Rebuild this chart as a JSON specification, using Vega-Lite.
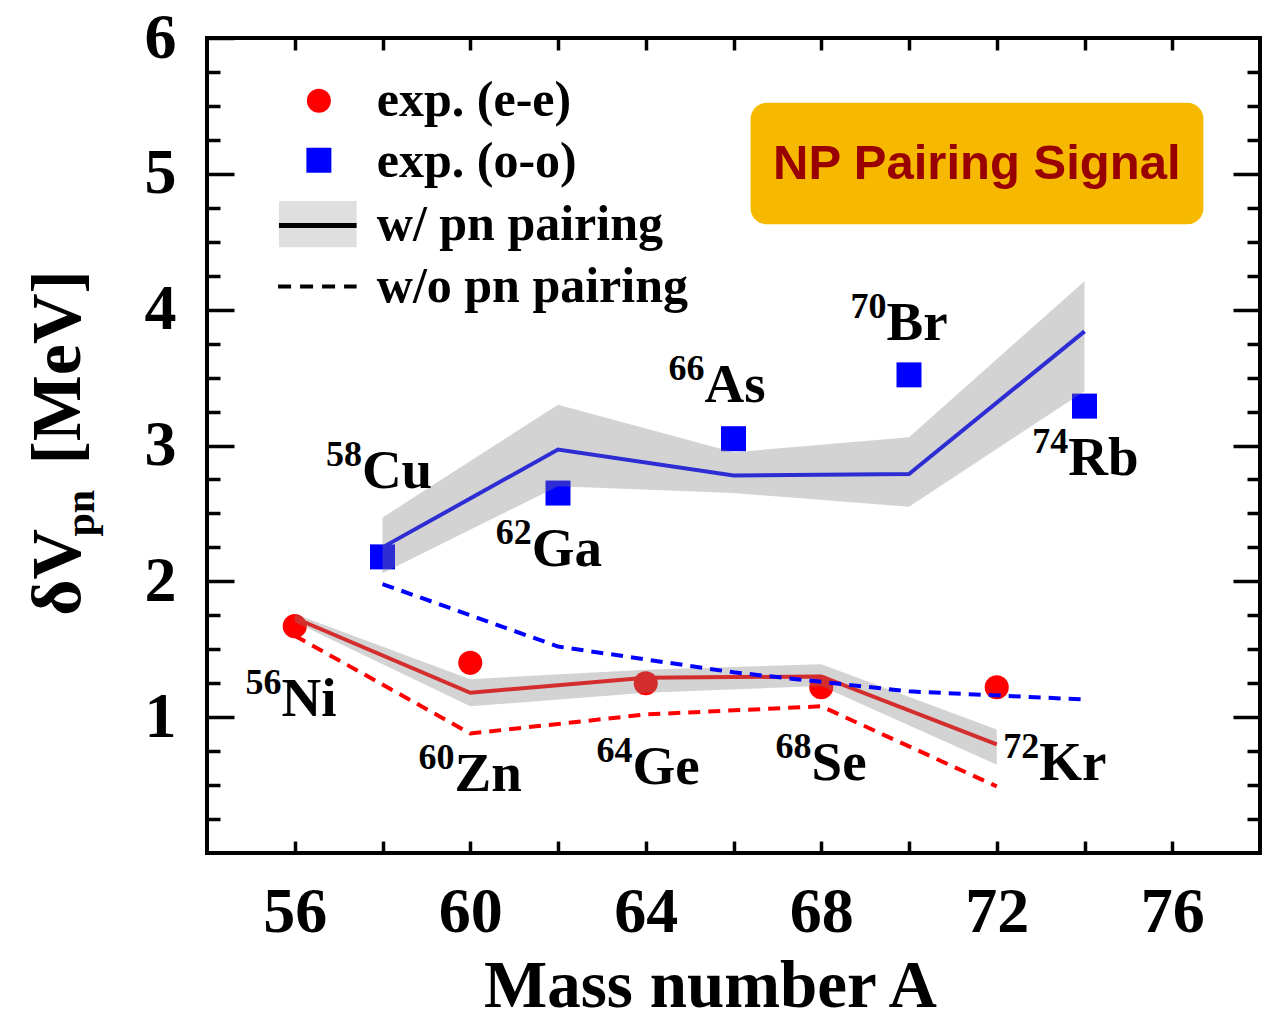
{
  "$schema": "https://vega.github.io/schema/vega-lite/v6.json",
  "width": 1053,
  "height": 815,
  "autosize": "none",
  "padding": {"left": 207, "top": 38, "right": 14, "bottom": 170},
  "background": "white",
  "config": {
    "view": {"stroke": "black", "strokeWidth": 4},
    "font": "Liberation Serif",
    "axis": {"domain": false, "grid": false, "tickColor": "black", "tickWidth": 3.5, "labelColor": "black", "labelFont": "Liberation Serif", "labelFontWeight": "bold", "labelFontSize": 64, "titleColor": "black", "titleFont": "Liberation Serif", "titleFontWeight": "bold", "titleFontSize": 67}
  },
  "datasets": {
    "nuc": [
      {"A": 56, "g": "ee", "exp": 1.67, "w": 1.73, "lo": 1.70, "hi": 1.76, "wo": 1.60},
      {"A": 60, "g": "ee", "exp": 1.40, "w": 1.18, "lo": 1.08, "hi": 1.28, "wo": 0.88},
      {"A": 64, "g": "ee", "exp": 1.25, "w": 1.29, "lo": 1.18, "hi": 1.35, "wo": 1.02},
      {"A": 68, "g": "ee", "exp": 1.22, "w": 1.30, "lo": 1.23, "hi": 1.39, "wo": 1.08},
      {"A": 72, "g": "ee", "exp": 1.22, "w": 0.80, "lo": 0.65, "hi": 0.91, "wo": 0.49},
      {"A": 58, "g": "oo", "exp": 2.18, "w": 2.25, "lo": 2.06, "hi": 2.47, "wo": 1.98},
      {"A": 62, "g": "oo", "exp": 2.65, "w": 2.97, "lo": 2.70, "hi": 3.30, "wo": 1.52},
      {"A": 66, "g": "oo", "exp": 3.05, "w": 2.78, "lo": 2.65, "hi": 2.95, "wo": 1.33},
      {"A": 70, "g": "oo", "exp": 3.52, "w": 2.79, "lo": 2.55, "hi": 3.06, "wo": 1.19},
      {"A": 74, "g": "oo", "exp": 3.29, "w": 3.84, "lo": 3.40, "hi": 4.21, "wo": 1.13}
    ],
    "lab": [
      {"A": 55.70, "y": 1.007, "m": "56", "s": "Ni"},
      {"A": 59.64, "y": 0.46, "m": "60", "s": "Zn"},
      {"A": 63.70, "y": 0.51, "m": "64", "s": "Ge"},
      {"A": 67.78, "y": 0.535, "m": "68", "s": "Se"},
      {"A": 72.97, "y": 0.535, "m": "72", "s": "Kr"},
      {"A": 57.53, "y": 2.69, "m": "58", "s": "Cu"},
      {"A": 61.40, "y": 2.116, "m": "62", "s": "Ga"},
      {"A": 65.34, "y": 3.32, "m": "66", "s": "As"},
      {"A": 69.49, "y": 3.78, "m": "70", "s": "Br"},
      {"A": 73.63, "y": 2.78, "m": "74", "s": "Rb"}
    ],
    "legpts": [
      {"lx": 56.55, "ly": 5.538, "g": "ee"},
      {"lx": 56.55, "ly": 5.10, "g": "oo"}
    ],
    "legtxt": [
      {"lx": 57.87, "ly": 5.538, "t": "exp. (e-e)"},
      {"lx": 57.87, "ly": 5.087, "t": "exp. (o-o)"},
      {"lx": 57.87, "ly": 4.62, "t": "w/ pn pairing"},
      {"lx": 57.87, "ly": 4.17, "t": "w/o pn pairing"}
    ]
  },
  "resolve": {"axis": {"x": "independent", "y": "independent"}},
  "layer": [
    {
      "data": {"name": "nuc"},
      "mark": {"type": "point", "filled": true, "opacity": 1, "strokeWidth": 0},
      "encoding": {
        "x": {"field": "A", "type": "quantitative", "scale": {"domain": [54, 78], "nice": false, "zero": false},
          "axis": {"orient": "bottom", "values": [56, 58, 60, 62, 64, 66, 68, 70, 72, 74, 76], "labelExpr": "datum.value % 4 === 0 ? datum.label : ''", "tickSize": -12, "labelPadding": 39, "title": "Mass number A", "titlePadding": 9, "titleX": 503}},
        "y": {"field": "exp", "type": "quantitative", "scale": {"domain": [0, 6], "nice": false, "zero": false},
          "axis": {"orient": "left", "values": [0.25, 0.5, 0.75, 1, 1.25, 1.5, 1.75, 2, 2.25, 2.5, 2.75, 3, 3.25, 3.5, 3.75, 4, 4.25, 4.5, 4.75, 5, 5.25, 5.5, 5.75, 6], "labelExpr": "datum.value % 1 === 0 ? format(datum.value, 'd') : ''", "tickSize": {"condition": {"test": "datum.value % 1 === 0", "value": -27}, "value": -13}, "labelPadding": 58, "title": null}},
        "color": {"field": "g", "type": "nominal", "scale": {"domain": ["ee", "oo"], "range": ["#ff0000", "#0000ff"]}, "legend": null},
        "shape": {"field": "g", "type": "nominal", "scale": {"domain": ["ee", "oo"], "range": ["circle", "square"]}, "legend": null},
        "size": {"field": "g", "type": "nominal", "scale": {"domain": ["ee", "oo"], "range": [580, 625]}, "legend": null}
      }
    },
    {
      "data": {"name": "nuc"},
      "mark": {"type": "line", "strokeWidth": 4},
      "encoding": {
        "x": {"field": "A", "type": "quantitative", "scale": {"domain": [54, 78], "nice": false, "zero": false},
          "axis": {"orient": "top", "values": [56, 58, 60, 62, 64, 66, 68, 70, 72, 74, 76], "labels": false, "tickSize": -12, "title": null}},
        "y": {"field": "w", "type": "quantitative", "scale": {"domain": [0, 6], "nice": false, "zero": false},
          "axis": {"orient": "right", "values": [0.25, 0.5, 0.75, 1, 1.25, 1.5, 1.75, 2, 2.25, 2.5, 2.75, 3, 3.25, 3.5, 3.75, 4, 4.25, 4.5, 4.75, 5, 5.25, 5.5, 5.75], "labels": false, "tickSize": {"condition": {"test": "datum.value % 1 === 0", "value": -27}, "value": -13}, "title": null}},
        "color": {"field": "g", "type": "nominal", "scale": {"domain": ["ee", "oo"], "range": ["#ff0000", "#0000ff"]}, "legend": null}
      }
    },
    {
      "data": {"name": "nuc"},
      "mark": {"type": "area", "color": "#808080", "opacity": 0.35},
      "encoding": {
        "x": {"field": "A", "type": "quantitative", "scale": {"domain": [54, 78], "nice": false, "zero": false}, "axis": null},
        "y": {"field": "lo", "type": "quantitative", "scale": {"domain": [0, 6], "nice": false, "zero": false}, "axis": null},
        "y2": {"field": "hi"},
        "detail": {"field": "g", "type": "nominal"}
      }
    },
    {
      "data": {"name": "nuc"},
      "mark": {"type": "line", "strokeWidth": 4, "strokeDash": [12, 8]},
      "encoding": {
        "x": {"field": "A", "type": "quantitative", "scale": {"domain": [54, 78], "nice": false, "zero": false}, "axis": null},
        "y": {"field": "wo", "type": "quantitative", "scale": {"domain": [0, 6], "nice": false, "zero": false}, "axis": null},
        "color": {"field": "g", "type": "nominal", "scale": {"domain": ["ee", "oo"], "range": ["#ff0000", "#0000ff"]}, "legend": null}
      }
    },
    {
      "data": {"name": "lab"},
      "mark": {"type": "text", "align": "right", "baseline": "alphabetic", "dy": -22, "font": "Liberation Serif", "fontWeight": "bold", "fontSize": 36, "color": "black"},
      "encoding": {
        "x": {"field": "A", "type": "quantitative", "scale": {"domain": [54, 78], "nice": false, "zero": false}, "axis": null},
        "y": {"field": "y", "type": "quantitative", "scale": {"domain": [0, 6], "nice": false, "zero": false}, "axis": null},
        "text": {"field": "m"}
      }
    },
    {
      "data": {"name": "lab"},
      "mark": {"type": "text", "align": "left", "baseline": "alphabetic", "font": "Liberation Serif", "fontWeight": "bold", "fontSize": 55, "color": "black"},
      "encoding": {
        "x": {"field": "A", "type": "quantitative", "scale": {"domain": [54, 78], "nice": false, "zero": false}, "axis": null},
        "y": {"field": "y", "type": "quantitative", "scale": {"domain": [0, 6], "nice": false, "zero": false}, "axis": null},
        "text": {"field": "s"}
      }
    },
    {
      "data": {"values": [{"x1": 55.64, "x2": 57.41, "y1": 4.459, "y2": 4.80}]},
      "mark": {"type": "rect", "color": "#808080", "opacity": 0.25},
      "encoding": {
        "x": {"field": "x1", "type": "quantitative", "scale": {"domain": [54, 78], "nice": false, "zero": false}, "axis": null},
        "x2": {"field": "x2"},
        "y": {"field": "y1", "type": "quantitative", "scale": {"domain": [0, 6], "nice": false, "zero": false}, "axis": null},
        "y2": {"field": "y2"}
      }
    },
    {
      "data": {"values": [{"x1": 55.64, "x2": 57.41, "y": 4.62}]},
      "mark": {"type": "rule", "color": "black", "strokeWidth": 5},
      "encoding": {
        "x": {"field": "x1", "type": "quantitative", "scale": {"domain": [54, 78], "nice": false, "zero": false}, "axis": null},
        "x2": {"field": "x2"},
        "y": {"field": "y", "type": "quantitative", "scale": {"domain": [0, 6], "nice": false, "zero": false}, "axis": null}
      }
    },
    {
      "data": {"values": [{"x1": 55.62, "x2": 57.41, "y": 4.17}]},
      "mark": {"type": "rule", "color": "black", "strokeWidth": 4, "strokeDash": [13, 9]},
      "encoding": {
        "x": {"field": "x1", "type": "quantitative", "scale": {"domain": [54, 78], "nice": false, "zero": false}, "axis": null},
        "x2": {"field": "x2"},
        "y": {"field": "y", "type": "quantitative", "scale": {"domain": [0, 6], "nice": false, "zero": false}, "axis": null}
      }
    },
    {
      "data": {"name": "legpts"},
      "mark": {"type": "point", "filled": true, "opacity": 1, "strokeWidth": 0},
      "encoding": {
        "x": {"field": "lx", "type": "quantitative", "scale": {"domain": [54, 78], "nice": false, "zero": false}, "axis": null},
        "y": {"field": "ly", "type": "quantitative", "scale": {"domain": [0, 6], "nice": false, "zero": false}, "axis": null},
        "color": {"field": "g", "type": "nominal", "scale": {"domain": ["ee", "oo"], "range": ["#ff0000", "#0000ff"]}, "legend": null},
        "shape": {"field": "g", "type": "nominal", "scale": {"domain": ["ee", "oo"], "range": ["circle", "square"]}, "legend": null},
        "size": {"field": "g", "type": "nominal", "scale": {"domain": ["ee", "oo"], "range": [660, 625]}, "legend": null}
      }
    },
    {
      "data": {"name": "legtxt"},
      "mark": {"type": "text", "align": "left", "baseline": "alphabetic", "dy": 15, "font": "Liberation Serif", "fontWeight": "bold", "fontSize": 50, "color": "black"},
      "encoding": {
        "x": {"field": "lx", "type": "quantitative", "scale": {"domain": [54, 78], "nice": false, "zero": false}, "axis": null},
        "y": {"field": "ly", "type": "quantitative", "scale": {"domain": [0, 6], "nice": false, "zero": false}, "axis": null},
        "text": {"field": "t"}
      }
    },
    {
      "data": {"values": [{"x1": 66.39, "x2": 76.71, "y1": 4.629, "y2": 5.523}]},
      "mark": {"type": "rect", "color": "#F6B900", "cornerRadius": 16},
      "encoding": {
        "x": {"field": "x1", "type": "quantitative", "scale": {"domain": [54, 78], "nice": false, "zero": false}, "axis": null},
        "x2": {"field": "x2"},
        "y": {"field": "y1", "type": "quantitative", "scale": {"domain": [0, 6], "nice": false, "zero": false}, "axis": null},
        "y2": {"field": "y2"}
      }
    },
    {
      "data": {"values": [{"x": 71.545, "y": 4.962, "t": "NP Pairing Signal"}]},
      "mark": {"type": "text", "align": "center", "baseline": "alphabetic", "font": "Liberation Sans", "fontWeight": "bold", "fontSize": 49, "color": "#990000"},
      "encoding": {
        "x": {"field": "x", "type": "quantitative", "scale": {"domain": [54, 78], "nice": false, "zero": false}, "axis": null},
        "y": {"field": "y", "type": "quantitative", "scale": {"domain": [0, 6], "nice": false, "zero": false}, "axis": null},
        "text": {"field": "t"}
      }
    },
    {
      "data": {"values": [{"x": 51.1, "y": 1.746, "t": "δV"}, {"x": 51.1, "y": 2.86, "t": "[MeV]"}]},
      "mark": {"type": "text", "align": "left", "baseline": "alphabetic", "angle": 270, "font": "Liberation Serif", "fontWeight": "bold", "fontSize": 70, "color": "black"},
      "encoding": {
        "x": {"field": "x", "type": "quantitative", "scale": {"domain": [54, 78], "nice": false, "zero": false}, "axis": null},
        "y": {"field": "y", "type": "quantitative", "scale": {"domain": [0, 6], "nice": false, "zero": false}, "axis": null},
        "text": {"field": "t"}
      }
    },
    {
      "data": {"values": [{"x": 51.1, "y": 2.33, "t": "pn"}]},
      "mark": {"type": "text", "align": "left", "baseline": "alphabetic", "angle": 270, "dy": 14, "font": "Liberation Serif", "fontWeight": "bold", "fontSize": 42, "color": "black"},
      "encoding": {
        "x": {"field": "x", "type": "quantitative", "scale": {"domain": [54, 78], "nice": false, "zero": false}, "axis": null},
        "y": {"field": "y", "type": "quantitative", "scale": {"domain": [0, 6], "nice": false, "zero": false}, "axis": null},
        "text": {"field": "t"}
      }
    }
  ]
}
